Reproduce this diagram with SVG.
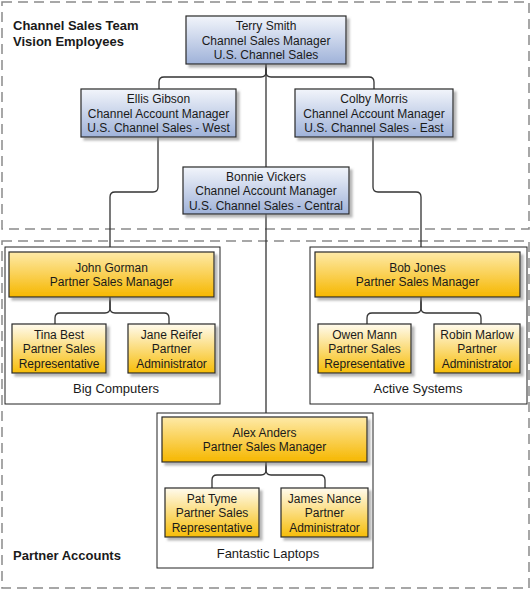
<svg xmlns="http://www.w3.org/2000/svg" width="531" height="590" viewBox="0 0 531 590">
<defs>
<linearGradient id="gBlue" x1="0" y1="0" x2="0" y2="1">
<stop offset="0" stop-color="#f2f5fb"/>
<stop offset="1" stop-color="#9fb2d9"/>
</linearGradient>
<linearGradient id="gMgr" x1="0" y1="0" x2="0" y2="1">
<stop offset="0" stop-color="#feeaa8"/>
<stop offset="1" stop-color="#f6b700"/>
</linearGradient>
<linearGradient id="gSub" x1="0" y1="0" x2="0" y2="1">
<stop offset="0" stop-color="#fffbee"/>
<stop offset="1" stop-color="#f7bd08"/>
</linearGradient>
<filter id="sh" x="-10%" y="-10%" width="130%" height="140%">
<feDropShadow dx="3" dy="3" stdDeviation="1" flood-color="#888" flood-opacity="0.6"/>
</filter>
</defs>
<style>
.zone{fill:none;stroke:#8a8a8a;stroke-width:1.5;stroke-dasharray:10 6}
.cont{fill:#fff;stroke:#222;stroke-width:1}
.blue{fill:url(#gBlue);stroke:#2a2a2a;stroke-width:1.2;filter:url(#sh)}
.mgr{fill:url(#gMgr);stroke:#2a2a2a;stroke-width:1.2;filter:url(#sh)}
.sub{fill:url(#gSub);stroke:#2a2a2a;stroke-width:1.2;filter:url(#sh)}
text{font-family:"Liberation Sans",Arial,sans-serif;fill:#1a1a1a}
.t{font-size:12px;text-anchor:middle}
.lbl{font-size:13px;text-anchor:middle}
.hd{font-size:13px;font-weight:bold}
.con{fill:none;stroke:#333;stroke-width:1.3}
</style>
<g id="zones">
<rect class="zone" x="2" y="2" width="527" height="227"/>
<rect class="zone" x="2" y="241" width="527" height="347"/>
<text class="hd" x="13" y="29.5">Channel Sales Team</text>
<text class="hd" x="13" y="46">Vision Employees</text>
<text class="hd" x="13" y="559.5">Partner Accounts</text>
</g>
<g id="containers">
<g id="big-computers">
<rect class="cont" x="5" y="247" width="215" height="157"/>
<text class="lbl" x="116" y="392.5">Big Computers</text>
</g>
<g id="active-systems">
<rect class="cont" x="310" y="247" width="217" height="157"/>
<text class="lbl" x="418" y="392.5">Active Systems</text>
</g>
<g id="fantastic-laptops">
<rect class="cont" x="157" y="413" width="216" height="155"/>
<text class="lbl" x="268" y="557.5">Fantastic Laptops</text>
</g>
</g>
<g id="connectors">
<path class="con" d="M266,64 V72 Q266,77 261,77 H164 Q159,77 159,82 V89"/>
<path class="con" d="M266,64 V72 Q266,77 271,77 H369 Q374,77 374,82 V89"/>
<path class="con" d="M266,64 V167"/>
<path class="con" d="M266,214 V413"/>
<path class="con" d="M158,137 V187 Q158,192 153,192 H115 Q110,192 110,197 V247"/>
<path class="con" d="M373,137 V187 Q373,192 378,192 H416 Q421,192 421,197 V247"/>
<path class="con" d="M110,297 V308 Q110,313 105,313 H60 Q55,313 55,318 V324"/>
<path class="con" d="M110,297 V308 Q110,313 115,313 H164 Q169,313 169,318 V324"/>
<path class="con" d="M421,297 V308 Q421,313 416,313 H372 Q367,313 367,318 V324"/>
<path class="con" d="M421,297 V308 Q421,313 426,313 H476 Q481,313 481,318 V324"/>
<path class="con" d="M266,462 V470 Q266,475 261,475 H217 Q212,475 212,480 V488"/>
<path class="con" d="M266,462 V470 Q266,475 271,475 H320 Q325,475 325,480 V488"/>
</g>
<g id="terry-smith">
<rect class="blue" x="186" y="16" width="160" height="48"/>
<text class="t" x="266" y="30">Terry Smith</text>
<text class="t" x="266" y="44.5">Channel Sales Manager</text>
<text class="t" x="266" y="59">U.S. Channel Sales</text>
</g>
<g id="ellis-gibson">
<rect class="blue" x="81" y="89" width="155" height="48"/>
<text class="t" x="158.5" y="103">Ellis Gibson</text>
<text class="t" x="158.5" y="117.5">Channel Account Manager</text>
<text class="t" x="158.5" y="132">U.S. Channel Sales - West</text>
</g>
<g id="colby-morris">
<rect class="blue" x="295" y="89" width="158" height="48"/>
<text class="t" x="374" y="103">Colby Morris</text>
<text class="t" x="374" y="117.5">Channel Account Manager</text>
<text class="t" x="374" y="132">U.S. Channel Sales - East</text>
</g>
<g id="bonnie-vickers">
<rect class="blue" x="183" y="167" width="166" height="47"/>
<text class="t" x="266" y="180.5">Bonnie Vickers</text>
<text class="t" x="266" y="195">Channel Account Manager</text>
<text class="t" x="266" y="209.5">U.S. Channel Sales - Central</text>
</g>
<g id="john-gorman">
<rect class="mgr" x="9" y="252" width="205" height="45"/>
<text class="t" x="111.5" y="271.5">John Gorman</text>
<text class="t" x="111.5" y="285.5">Partner Sales Manager</text>
</g>
<g id="tina-best">
<rect class="sub" x="12" y="324" width="94" height="49"/>
<text class="t" x="59" y="338.5">Tina Best</text>
<text class="t" x="59" y="353">Partner Sales</text>
<text class="t" x="59" y="367.5">Representative</text>
</g>
<g id="jane-reifer">
<rect class="sub" x="128" y="324" width="87" height="49"/>
<text class="t" x="171.5" y="338.5">Jane Reifer</text>
<text class="t" x="171.5" y="353">Partner</text>
<text class="t" x="171.5" y="367.5">Administrator</text>
</g>
<g id="bob-jones">
<rect class="mgr" x="315" y="252" width="205" height="45"/>
<text class="t" x="417.5" y="271.5">Bob Jones</text>
<text class="t" x="417.5" y="285.5">Partner Sales Manager</text>
</g>
<g id="owen-mann">
<rect class="sub" x="318" y="324" width="93" height="49"/>
<text class="t" x="364.5" y="338.5">Owen Mann</text>
<text class="t" x="364.5" y="353">Partner Sales</text>
<text class="t" x="364.5" y="367.5">Representative</text>
</g>
<g id="robin-marlow">
<rect class="sub" x="434" y="324" width="86" height="49"/>
<text class="t" x="477" y="338.5">Robin Marlow</text>
<text class="t" x="477" y="353">Partner</text>
<text class="t" x="477" y="367.5">Administrator</text>
</g>
<g id="alex-anders">
<rect class="mgr" x="162" y="417" width="205" height="45"/>
<text class="t" x="264.5" y="436.5">Alex Anders</text>
<text class="t" x="264.5" y="450.5">Partner Sales Manager</text>
</g>
<g id="pat-tyme">
<rect class="sub" x="165" y="488" width="94" height="49"/>
<text class="t" x="212" y="502.5">Pat Tyme</text>
<text class="t" x="212" y="517">Partner Sales</text>
<text class="t" x="212" y="531.5">Representative</text>
</g>
<g id="james-nance">
<rect class="sub" x="281" y="488" width="87" height="49"/>
<text class="t" x="324.5" y="502.5">James Nance</text>
<text class="t" x="324.5" y="517">Partner</text>
<text class="t" x="324.5" y="531.5">Administrator</text>
</g>
</svg>
